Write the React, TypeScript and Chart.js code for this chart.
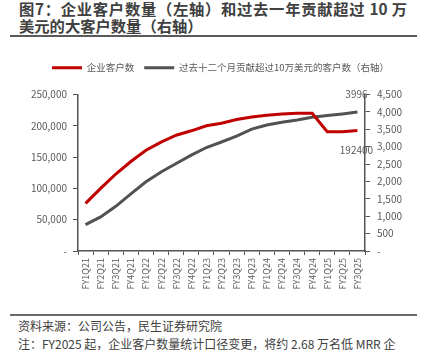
import React, { useEffect, useRef } from "react";
import { Chart, registerables } from "chart.js";

Chart.register(...registerables);

const categories = [
  "FY1Q21", "FY2Q21", "FY3Q21", "FY4Q21",
  "FY1Q22", "FY2Q22", "FY3Q22", "FY4Q22",
  "FY1Q23", "FY2Q23", "FY3Q23", "FY4Q23",
  "FY1Q24", "FY2Q24", "FY3Q24", "FY4Q24",
  "FY1Q25", "FY2Q25", "FY3Q25",
];

const enterpriseCustomers = [
  76000, 100000, 123000, 143000, 161000, 174000, 185000, 192000, 200000, 204000,
  210000, 214000, 217000, 219000, 220000, 220000, 190500, 190500, 192400,
];

const bigCustomers = [
  760, 980, 1285, 1645, 1990, 2270, 2515, 2755, 2975, 3135,
  3305, 3505, 3625, 3700, 3768, 3846, 3893, 3942, 3996,
];

const seriesNames = ["企业客户数", "过去十二个月贡献超过10万美元的客户数（右轴）"];
const lastLabels = ["192400", "3996"];

const FONT = '"Noto Sans CJK SC", "Noto Sans", sans-serif';
const TXT = "#595959";
const AXIS = "#555555";

function ChartBox() {
  const ref = useRef<HTMLCanvasElement | null>(null);
  useEffect(() => {
    if (!ref.current) return;
    const labelPlugin = {
      id: "lastLabels",
      afterDatasetsDraw(chart: any) {
        const ctx = chart.ctx;
        ctx.save();
        ctx.font = `10px ${FONT}`;
        ctx.fillStyle = TXT;
        ctx.textAlign = "center";
        ctx.textBaseline = "middle";
        const m0 = chart.getDatasetMeta(0);
        const p0 = m0.data[m0.data.length - 1];
        ctx.fillText(lastLabels[0], p0.x - 1, p0.y + 20);
        const m1 = chart.getDatasetMeta(1);
        const p1 = m1.data[m1.data.length - 1];
        ctx.fillText(lastLabels[1], p1.x - 1, p1.y - 18);
        ctx.restore();
      },
    };
    const legendPad = {
      id: "legendPad",
      beforeInit(chart: any) {
        const lg = chart.legend;
        if (!lg) return;
        const orig = lg.fit;
        lg.fit = function () {
          orig.call(this);
          this.height += 12;
        };
      },
      afterLayout(chart: any) {
        const lg = chart.legend;
        if (!lg) return;
        lg.left += 7;
        lg.right += 7;
      },
    };
    const chart = new Chart(ref.current, {
      type: "line",
      data: {
        labels: categories,
        datasets: [
          {
            label: seriesNames[0],
            data: enterpriseCustomers,
            borderColor: "#C00000",
            backgroundColor: "#C00000",
            borderWidth: 3,
            pointRadius: 0,
            tension: 0,
            yAxisID: "y",
          },
          {
            label: seriesNames[1],
            data: bigCustomers,
            borderColor: "#525252",
            backgroundColor: "#525252",
            borderWidth: 3,
            pointRadius: 0,
            tension: 0,
            yAxisID: "y1",
          },
        ],
      },
      options: {
        animation: false,
        responsive: false,
        maintainAspectRatio: false,
        layout: { padding: { left: 0, right: 0, top: 0, bottom: 0 } },
        plugins: {
          tooltip: { enabled: false },
          legend: {
            display: true,
            position: "top",
            labels: {
              boxWidth: 30,
              boxHeight: 3,
              padding: 10,
              color: TXT,
              font: { size: 9.5, family: FONT },
              generateLabels(chart: any) {
                return Chart.defaults.plugins.legend.labels
                  .generateLabels(chart)
                  .map((l: any) => ({ ...l, lineWidth: 0 }));
              },
            },
          },
        },
        scales: {
          x: {
            offset: true,
            grid: {
              offset: true,
              drawOnChartArea: false,
              color: AXIS,
              tickLength: 4,
            },
            border: { display: true, color: AXIS, width: 1.5 },
            ticks: {
              color: TXT,
              font: { size: 9, family: FONT },
              minRotation: 90,
              maxRotation: 90,
              padding: 3,
              autoSkip: false,
            },
            afterFit(scale: any) {
              scale.height = 54;
            },
          },
          y: {
            position: "left",
            min: 0,
            max: 250000,
            grid: { drawOnChartArea: false, color: AXIS, tickLength: 5 },
            border: { display: true, color: AXIS, width: 1.5 },
            ticks: {
              stepSize: 50000,
              color: TXT,
              padding: 6,
              font: { size: 10, family: FONT },
              callback: (v: any) => (v === 0 ? "-" : Number(v).toLocaleString("en-US")),
            },
            afterFit(scale: any) {
              scale.width = 78;
            },
          },
          y1: {
            position: "right",
            min: 0,
            max: 4500,
            grid: { drawOnChartArea: false, color: AXIS, tickLength: 5 },
            border: { display: true, color: AXIS, width: 1.5 },
            ticks: {
              stepSize: 500,
              color: TXT,
              padding: 7,
              font: { size: 10, family: FONT },
              callback: (v: any) => (v === 0 ? "-" : Number(v).toLocaleString("en-US")),
            },
            afterFit(scale: any) {
              scale.width = 62;
            },
          },
        },
      },
      plugins: [labelPlugin, legendPad],
    } as any);
    return () => chart.destroy();
  }, []);
  return (
    <canvas
      ref={ref}
      width={427}
      height={252}
      style={{ position: "absolute", left: 0, top: 53, width: 427, height: 252 }}
    />
  );
}

export default function App() {
  return (
    <div
      style={{
        position: "absolute",
        left: 0,
        top: 0,
        width: 427,
        height: 360,
        overflow: "hidden",
        background: "#ffffff",
        fontFamily: FONT,
      }}
    >
      <div
        style={{
          position: "absolute",
          left: 19,
          top: 0,
          width: 388,
          fontSize: 15.3,
          fontWeight: 700,
          lineHeight: "17px",
          color: "#404040",
        }}
      >
        <div style={{ textAlign: "justify", textAlignLast: "justify", whiteSpace: "nowrap" } as any}>
          图7：企业客户数量（左轴）和过去一年贡献超过 10 万
        </div>
        <div>美元的大客户数量（右轴）</div>
      </div>
      <div
        style={{
          position: "absolute",
          left: 10,
          top: 35,
          width: 407,
          height: 2,
          background: "#595959",
        }}
      />
      <ChartBox />
      <div
        style={{
          position: "absolute",
          left: 10,
          top: 314,
          width: 407,
          height: 2,
          background: "#6a6a6a",
        }}
      />
      <div
        style={{
          position: "absolute",
          left: 18,
          top: 317,
          width: 409,
          fontSize: 12,
          lineHeight: "17.5px",
          color: "#404040",
          whiteSpace: "nowrap",
          overflow: "hidden",
        }}
      >
        <div>资料来源：公司公告，民生证券研究院</div>
        <div>注：FY2025 起，企业客户数量统计口径变更，将约 2.68 万名低 MRR 企</div>
      </div>
    </div>
  );
}
